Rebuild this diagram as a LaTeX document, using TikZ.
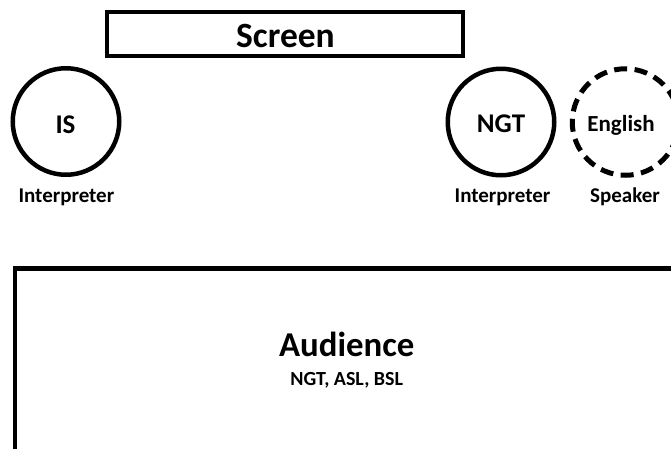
\documentclass[tikz,border=0pt]{standalone}
\usepackage{fontspec}
\setmainfont{Carlito}
\begin{document}
\begin{tikzpicture}[x=1pt,y=-1pt,
  person/.style={draw=black,line width=4.5pt,circle,minimum size=106.5pt,inner sep=0pt},
  speakercircle/.style={person,line width=5pt,dash pattern=on 13pt off 7.5pt},
  room/.style={draw=black,line width=4.5pt},
  lbl/.style={anchor=base,inner sep=0pt,font=\bfseries\fontsize{21}{25}\selectfont},
  inlbl/.style={anchor=base,inner sep=0pt,font=\bfseries\fontsize{27}{31}\selectfont},
  big/.style={anchor=base,inner sep=0pt,font=\bfseries\fontsize{35.5}{40}\selectfont}]
\useasboundingbox (0,0) rectangle (671,448);
\clip (0,0) rectangle (671,448);
% Screen
\node[room,minimum width=356pt,minimum height=44pt,inner sep=0pt] (screen) at (285,34) {};
\node[big] (screentxt) at (285.5,47.3) {Screen};
% IS interpreter
\node[person] (is) at (66,121.5) {};
\node[inlbl] (istxt) at (65.5,133) {IS};
\node[lbl] (isrole) at (66.4,202) {Interpreter};
% NGT interpreter
\node[person] (ngt) at (501,122) {};
\node[inlbl] (ngttxt) at (501,132) {NGT};
\node[lbl] (ngtrole) at (502.5,202) {Interpreter};
% English speaker
\node[speakercircle] (eng) at (625.5,122) {};
\node[lbl,font=\bfseries\fontsize{23}{27}\selectfont] (engtxt) at (621,131.5) {English};
\node[lbl] (engrole) at (625,202) {Speaker};
% Audience
\draw[room] (15,268.5) rectangle (690,470);
\node[big,font=\bfseries\fontsize{34.8}{40}\selectfont] (aud) at (346.7,356.7) {Audience};
\node[anchor=base,inner sep=0pt,font=\bfseries\fontsize{20}{24}\selectfont] (langs) at (346.7,385.5) {NGT, ASL, BSL};
\end{tikzpicture}
\end{document}
